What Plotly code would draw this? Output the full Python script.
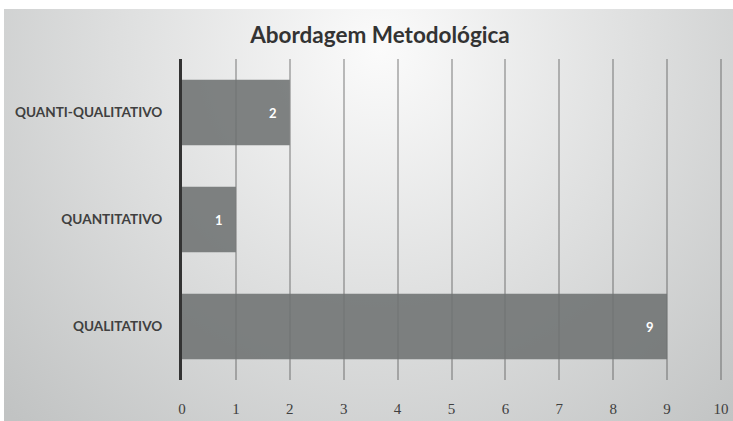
import base64
import plotly.graph_objects as go

# Data
categories = ["QUALITATIVO", "QUANTITATIVO", "QUANTI-QUALITATIVO"]
values = [9, 1, 2]
x_ticks = list(range(0, 11))

W, H = 733, 421

# Soft radial backdrop (light centre near the title, greyer towards the edges)
bg_svg = (
    '<svg xmlns="http://www.w3.org/2000/svg" width="729" height="412" '
    'viewBox="0 0 729 412" preserveAspectRatio="none">'
    '<defs><radialGradient id="g" gradientUnits="userSpaceOnUse" '
    'cx="376" cy="40" r="520">'
    '<stop offset="0" stop-color="#fbfbfb"/>'
    '<stop offset="1" stop-color="#c1c3c3"/>'
    '</radialGradient></defs>'
    '<rect x="0" y="0" width="729" height="412" fill="url(#g)"/></svg>'
)
bg_uri = "data:image/svg+xml;base64," + base64.b64encode(bg_svg.encode()).decode()

# Slight headroom past 10 so the last gridline is still drawn
x_max = 10.03
x_left_px, px_per_unit = 182, 53.9

fig = go.Figure()
fig.add_trace(
    go.Bar(
        x=values,
        y=categories,
        orientation="h",
        marker=dict(color="rgba(110,114,114,0.88)", line=dict(width=0)),
        hoverinfo="x+y",
    )
)

# Value labels just inside the end of each bar
for cat, val in zip(categories, values):
    fig.add_annotation(
        x=val, y=cat, xref="x", yref="y",
        text=f"<b>{val}</b>", showarrow=False,
        xanchor="right", xshift=-11,
        font=dict(family="Lato, Open Sans, sans-serif", size=13, color="white"),
    )

fig.update_layout(
    width=W, height=H,
    margin=dict(l=0, r=0, t=0, b=0, autoexpand=False),
    paper_bgcolor="white",
    plot_bgcolor="rgba(0,0,0,0)",
    showlegend=False,
    bargap=0.39,
    title=dict(
        text="<b>Abordagem Metodológica</b>",
        x=380 / W, xref="paper", xanchor="center",
        y=1 - 35 / H, yref="paper", yanchor="middle",
        font=dict(family="Lato, Open Sans, sans-serif", size=22.5, color="#333333"),
    ),
    images=[dict(
        source=bg_uri, xref="paper", yref="paper",
        x=4 / W, y=1 - 9 / H, sizex=729 / W, sizey=412 / H,
        xanchor="left", yanchor="top", sizing="stretch", layer="below",
    )],
    xaxis=dict(
        domain=[x_left_px / W, (x_left_px + px_per_unit * x_max) / W],
        range=[0, x_max],
        tickvals=x_ticks,
        ticktext=[str(t) for t in x_ticks],
        showgrid=True,
        gridcolor="rgba(70,70,70,0.35)",
        gridwidth=1.5,
        zeroline=False,
        showline=False,
        ticks="",
        ticklabelstandoff=18,
        automargin=False,
        tickfont=dict(family="Liberation Serif, DejaVu Serif, serif", size=15, color="#404040"),
        fixedrange=True,
    ),
    yaxis=dict(
        domain=[1 - 380 / H, 1 - 59 / H],
        range=[-0.5, 2.5],
        showgrid=False,
        zeroline=False,
        showline=True,
        linecolor="#333333",
        linewidth=3,
        ticks="",
        ticklabelstandoff=14,
        automargin=False,
        tickfont=dict(family="Lato, Open Sans, sans-serif", size=13.6, color="#404040", weight="bold"),
        fixedrange=True,
    ),
)

fig.write_html("out.html")
